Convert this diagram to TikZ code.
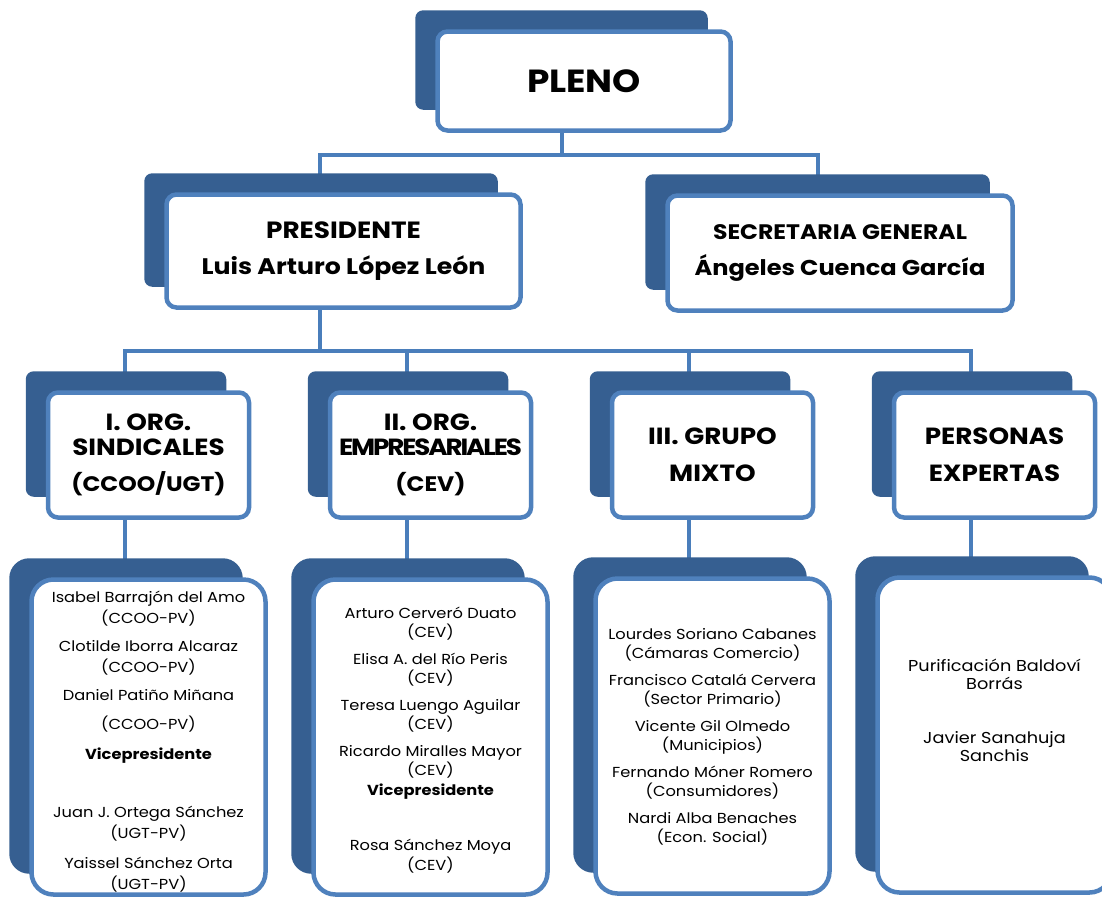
\documentclass[tikz,border=0pt]{standalone}
\usepackage{fontspec}
\setmainfont{Poppins}[FakeStretch=1.12]
\usetikzlibrary{backgrounds}

\definecolor{boxblue}{HTML}{4F81BD}
\definecolor{shadeblue}{HTML}{365F91}
\definecolor{linkblue}{HTML}{4A7EBB}

\tikzset{
  box/.style={draw=boxblue, fill=white, line width=4.5pt, rounded corners=10pt, align=center},
  bigbox/.style={box, rounded corners=22pt},
  headtext/.style={font=\bfseries\fontsize{22.5}{36}\selectfont},
  grouptext/.style={font=\bfseries\fontsize{23.4}{25}\selectfont},
  member/.style={align=center, font=\fontsize{14.5}{21}\selectfont},
  link/.style={draw=linkblue, line width=4.5pt},
}
\newcommand{\paren}[1]{{\fontsize{21}{25}\selectfont #1}}

\begin{document}
\begin{tikzpicture}[x=1pt,y=-1pt]
\useasboundingbox (0,0) rectangle (1102,900);

% top level
\node[box, minimum width=293pt, minimum height=99pt, font=\bfseries\fontsize{32}{40}\selectfont] (pleno) at (584,81) {PLENO};
\node[box, headtext, minimum width=354pt, minimum height=113pt] (pres) at (343.5,251) {{\fontsize{23.5}{36}\selectfont PRESIDENTE}\\Luis Arturo López León};
\node[box, headtext, minimum width=345pt, minimum height=115pt] (sec) at (840,253) {{\fontsize{21}{36}\selectfont SECRETARIA GENERAL}\\{\fontsize{21.5}{36}\selectfont Ángeles Cuenca García}};

% groups
\node[box, grouptext, minimum width=201pt, minimum height=125pt] (orgI) at (148.5,455) {I. ORG.\\SINDICALES\\[11pt]\paren{(CCOO/UGT)}};
\node[box, grouptext, minimum width=201pt, minimum height=125pt] (orgII) at (430.5,455) {II. ORG.\\{\addfontfeature{LetterSpace=-9}EMPRESARIALES}\\[11pt]\paren{(CEV)}};
\node[box, grouptext, minimum width=201pt, minimum height=125pt] (orgIII) at (712.5,455) {III. GRUPO\\[12pt]MIXTO};
\node[box, grouptext, minimum width=201pt, minimum height=125pt] (orgIV) at (994.5,455) {PERSONAS\\[12pt]EXPERTAS};

% members
\node[bigbox, minimum width=234pt, minimum height=315pt] (listI) at (148.5,737) {};
\node[bigbox, minimum width=234pt, minimum height=315pt] (listII) at (430.5,737) {};
\node[bigbox, minimum width=234pt, minimum height=315pt] (listIII) at (712.5,736) {};
\node[bigbox, minimum width=234pt, minimum height=315pt] (listIV) at (994.5,735) {};

\node[member] (listI-txt) at (148.5,742) {Isabel Barrajón del Amo\\(CCOO-PV)\\[7pt]Clotilde Iborra Alcaraz\\(CCOO-PV)\\[7pt]Daniel Patiño Miñana\\[8pt](CCOO-PV)\\[9pt]\textbf{Vicepresidente}\\[37pt]Juan J. Ortega Sánchez\\(UGT-PV)\\[9pt]Yaissel Sánchez Orta\\(UGT-PV)};
\node[member, font=\fontsize{14.5}{19.5}\selectfont] (listII-txt) at (430.5,740) {Arturo Cerveró Duato\\(CEV)\\[7pt]Elisa A. del Río Peris\\(CEV)\\[7pt]Teresa Luengo Aguilar\\(CEV)\\[7pt]Ricardo Miralles Mayor\\(CEV)\\\textbf{Vicepresidente}\\[36pt]Rosa Sánchez Moya\\(CEV)};
\node[member, font=\fontsize{14.5}{19.5}\selectfont] (listIII-txt) at (712.5,737) {Lourdes Soriano Cabanes\\(Cámaras Comercio)\\[7pt]Francisco Catalá Cervera\\(Sector Primario)\\[7pt]Vicente Gil Olmedo\\(Municipios)\\[7pt]Fernando Móner Romero\\(Consumidores)\\[7pt]Nardi Alba Benaches\\(Econ. Social)};
\node[member, font=\fontsize{15.8}{18}\selectfont] (listIV-txt) at (994.5,710) {Purificación Baldoví\\Borrás\\[36pt]Javier Sanahuja\\Sanchis};

\begin{scope}[on background layer]
  % connectors
  \draw[link] ([xshift=-22pt]pleno.south) -- ++(0,22) coordinate (j1);
  \draw[link] (j1) -| ([xshift=-23.5pt]pres.north);
  \draw[link] (j1) -| ([xshift=-22pt]sec.north);
  \draw[link] ([xshift=-23.5pt]pres.south) -- ++(0,41) coordinate (j2);
  \foreach \g in {orgI,orgII,orgIII,orgIV}
    \draw[link] (j2) -| ([xshift=-23.5pt]\g.north);
  \foreach \g/\l in {orgI/listI,orgII/listII,orgIII/listIII,orgIV/listIV}
    \draw[link] ([xshift=-23.5pt]\g.south) -- ([xshift=-23.5pt]\l.north);
  % shadows
  \foreach \n/\r in {pleno/8,pres/8,sec/8,orgI/8,orgII/8,orgIII/8,orgIV/8,listI/20,listII/20,listIII/20,listIV/20}
    \fill[shadeblue, rounded corners=\r pt] ([shift={(-20,-19)}]\n.north west) rectangle ([shift={(-25,-23)}]\n.south east);
\end{scope}
\end{tikzpicture}
\end{document}
